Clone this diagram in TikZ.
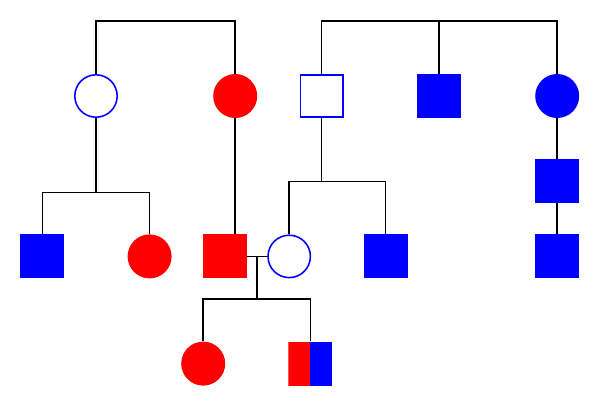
\documentclass[tikz,border=0pt]{standalone}
\usepackage{tikz}
\tikzset{
  maschio/.style = {rectangle, minimum size=11mm, inner sep=0},
  femmina/.style = {circle, minimum size=11mm, inner sep=0},
  sano/.style    = {draw=blue, line width=1.1pt, fill=white, minimum size=10.6mm},
  blu/.style     = {fill=blue},
  rosso/.style   = {fill=red},
  misto/.style   = {path picture={
      \fill[red]  (path picture bounding box.south west) rectangle (path picture bounding box.north);
      \fill[blue] (path picture bounding box.south) rectangle (path picture bounding box.north east);}},
  link/.style    = {line width=1.2pt}
}

\begin{document}
\begin{tikzpicture}

  \useasboundingbox (0,0) rectangle (15,-10.15);

  % prima generazione
  \node[femmina,sano]  (f1) at ( 2.40,-2.40){};
  \node[femmina,rosso] (f2) at ( 5.88,-2.40){};
  \node[maschio,sano]  (m1) at ( 8.04,-2.40){};
  \node[maschio,blu]   (m2) at (10.98,-2.40){};
  \node[femmina,blu]   (f3) at (13.93,-2.40){};

  \coordinate (top) at (0,-0.52);
  \draw[link] (f1.north) -- (f1 |- top) -| (f2.north);
  \draw[link] (m1.north) -- (m1 |- top) -| (f3.north);
  \draw[link] (m2.north) -- (m2 |- top);

  % seconda e terza generazione
  \node[maschio,blu]   (m3) at (13.93,-4.53){};
  \node[maschio,blu]   (m4) at ( 1.06,-6.41){};
  \node[femmina,rosso] (f4) at ( 3.74,-6.41){};
  \node[maschio,rosso] (m5) at ( 5.62,-6.41){};
  \node[femmina,sano]  (f5) at ( 7.23,-6.41){};
  \node[maschio,blu]   (m6) at ( 9.64,-6.41){};
  \node[maschio,blu]   (m7) at (13.93,-6.41){};

  \coordinate (s1) at (0,-4.81);
  \draw[link] (f1.south) -- (f1 |- s1);
  \draw[link] (m4.north) |- (f4 |- s1) -- (f4.north);
  \draw[link] (f2.south) -- (f2 |- m5.north);
  \coordinate (s2) at (0,-4.54);
  \draw[link] (m1.south) -- (m1 |- s2);
  \draw[link] (f5.north) |- (m6 |- s2) -- (m6.north);
  \draw[link] (f3) -- (m3);
  \draw[link] (m3) -- (m7);

  % coppia e figli
  \draw[link] (m5.east) -- (f5.west);
  \coordinate (nozze) at (6.43,-6.41);
  \node[femmina,rosso] (f6) at (5.08,-9.09){};
  \node[maschio,misto] (m8) at (7.76,-9.09){};
  \coordinate (s3) at (0,-7.48);
  \draw[link] (nozze) -- (nozze |- s3);
  \draw[link] (f6.north) |- (m8 |- s3) -- (m8.north);

\end{tikzpicture}
\end{document}
